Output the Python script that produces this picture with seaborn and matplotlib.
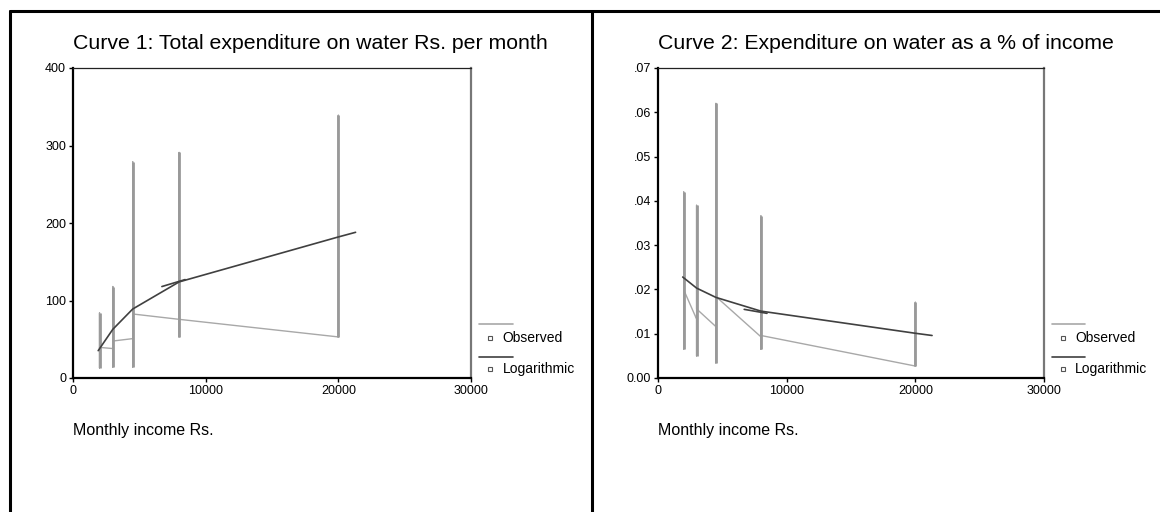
import numpy as np
import pandas as pd
import matplotlib
matplotlib.use("Agg")
import matplotlib.pyplot as plt
import seaborn as sns
from matplotlib.lines import Line2D

# ---- data ----
income = [2000, 3000, 4500, 8000, 20000]

# Curve 1: expenditure Rs. per month (observed spread per income group)
exp_lo = [13, 14, 14, 53, 53]
exp_hi = [84, 118, 279, 291, 339]
exp_in = [39.5, 38, 50.8, 75.7, 53]    # value where the observed line arrives
exp_out = [39.5, 47.7, 82.6, 75.7, 53]  # value where it leaves
fit1_x = [1900, 3000, 4500, 8000, 20000, 21300]
fit1_y = [35.3, 62.8, 89, 124, 182, 188]
mark1_x = [6700, 8450]
mark1_y = [118, 127]

# Curve 2: expenditure as share of income
pct_lo = [0.0065, 0.005, 0.0034, 0.0065, 0.0027]
pct_hi = [0.042, 0.039, 0.062, 0.0366, 0.0171]
pct_in = [0.0199, 0.0133, 0.0116, 0.0093, 0.0027]
pct_out = [0.0199, 0.0156, 0.0184, 0.0096, 0.0027]
fit2_x = [1920, 3000, 4500, 8000, 20000, 21300]
fit2_y = [0.0228, 0.0203, 0.0182, 0.0151, 0.0101, 0.0096]
mark2_x = [6700, 8470]
mark2_y = [0.0155, 0.0146]

x_ticks = [0, 10000, 20000, 30000]
y1_ticks = [0, 100, 200, 300, 400]
y1_labels = ['0', '100', '200', '300', '400']
y2_ticks = [0, 0.01, 0.02, 0.03, 0.04, 0.05, 0.06, 0.07]
y2_labels = ['0.00', '.01', '.02', '.03', '.04', '.05', '.06', '.07']

titles = ['Curve 1: Total expenditure on water Rs. per month',
          'Curve 2: Expenditure on water as a % of income']

sns.set_style('white')
plt.rcParams['font.family'] = ['Liberation Sans', 'DejaVu Sans']
plt.rcParams['text.color'] = 'black'

W, H = 1160, 512
fig = plt.figure(figsize=(W / 100, H / 100), dpi=100)


def box(x0, y0, x1, y1):
    return [x0 / W, 1 - y1 / H, (x1 - x0) / W, (y1 - y0) / H]


def observed_path(lo, hi, arr, out):
    xs, ys = [], []
    for x, a, l, h, o in zip(income, arr, lo, hi, out):
        xs += [x, x, x, x]
        ys += [a, l, h, o]
    return pd.DataFrame({'x': xs, 'y': ys})


def panel(ax, lo, hi, arr, out, fx, fy, mx, my, yticks, ylabels, ymax, title):
    obs = observed_path(lo, hi, arr, out)
    sns.lineplot(data=obs, x='x', y='y', sort=False, estimator=None,
                 color='#a8a8a8', lw=1.0, ax=ax)
    ax.vlines(income, lo, hi, color='#999999', lw=2.0)
    fit = pd.DataFrame({'x': fx, 'y': fy})
    sns.lineplot(data=fit, x='x', y='y', sort=False, estimator=None,
                 color='#404040', lw=1.2, ax=ax)
    ax.plot(mx, my, color='#404040', lw=1.2)

    ax.set_xlim(0, 30000)
    ax.set_ylim(0, ymax)
    ax.set_xticks(x_ticks)
    ax.set_xticklabels([str(t) for t in x_ticks])
    ax.set_yticks(yticks)
    ax.set_yticklabels(ylabels)
    ax.tick_params(axis='both', direction='out', length=3, width=1,
                   pad=2, labelsize=9, colors='black', bottom=True, left=True)
    ax.set_xlabel('')
    ax.set_ylabel('')
    for s in ['left', 'bottom']:
        ax.spines[s].set_color('black')
        ax.spines[s].set_linewidth(1.6)
    ax.spines['top'].set_color('#222222')
    ax.spines['top'].set_linewidth(0.9)
    ax.spines['right'].set_color('#777777')
    ax.spines['right'].set_linewidth(1.6)

    ax.text(0, 1.08, title, transform=ax.transAxes, fontsize=15.3,
            va='center', ha='left')
    ax.text(0, -0.168, 'Monthly income Rs.', transform=ax.transAxes,
            fontsize=11.5, va='center', ha='left')

    # legend drawn beside the plot
    t = ax.transAxes
    for ly, my_, col, lab in [(0.174, 0.129, '#a8a8a8', 'Observed'),
                              (0.068, 0.029, '#404040', 'Logarithmic')]:
        ax.add_line(Line2D([1.02, 1.105], [ly, ly], transform=t, color=col,
                           lw=1.2, clip_on=False))
        ax.add_line(Line2D([1.048], [my_], transform=t, marker='s', ms=3.5,
                           mfc='white', mec='#555555', mew=0.8, ls='none',
                           clip_on=False))
        ax.text(1.08, my_, lab, transform=t, fontsize=10, va='center',
                ha='left')


ax1 = fig.add_axes(box(73, 68, 471, 378))
ax2 = fig.add_axes(box(658, 68, 1044, 378))
panel(ax1, exp_lo, exp_hi, exp_in, exp_out, fit1_x, fit1_y, mark1_x, mark1_y,
      y1_ticks, y1_labels, 400, titles[0])
panel(ax2, pct_lo, pct_hi, pct_in, pct_out, fit2_x, fit2_y, mark2_x, mark2_y,
      y2_ticks, y2_labels, 0.07, titles[1])

# outer frame of the two panels
for xs, ys in [([9.5, 9.5], [512, 11]), ([9.5, 1160], [11, 11]),
               ([591.5, 591.5], [11, 512])]:
    fig.add_artist(Line2D([x / W for x in xs], [1 - y / H for y in ys],
                          color='black', lw=2.2))

fig.savefig('out.png', dpi=100)
